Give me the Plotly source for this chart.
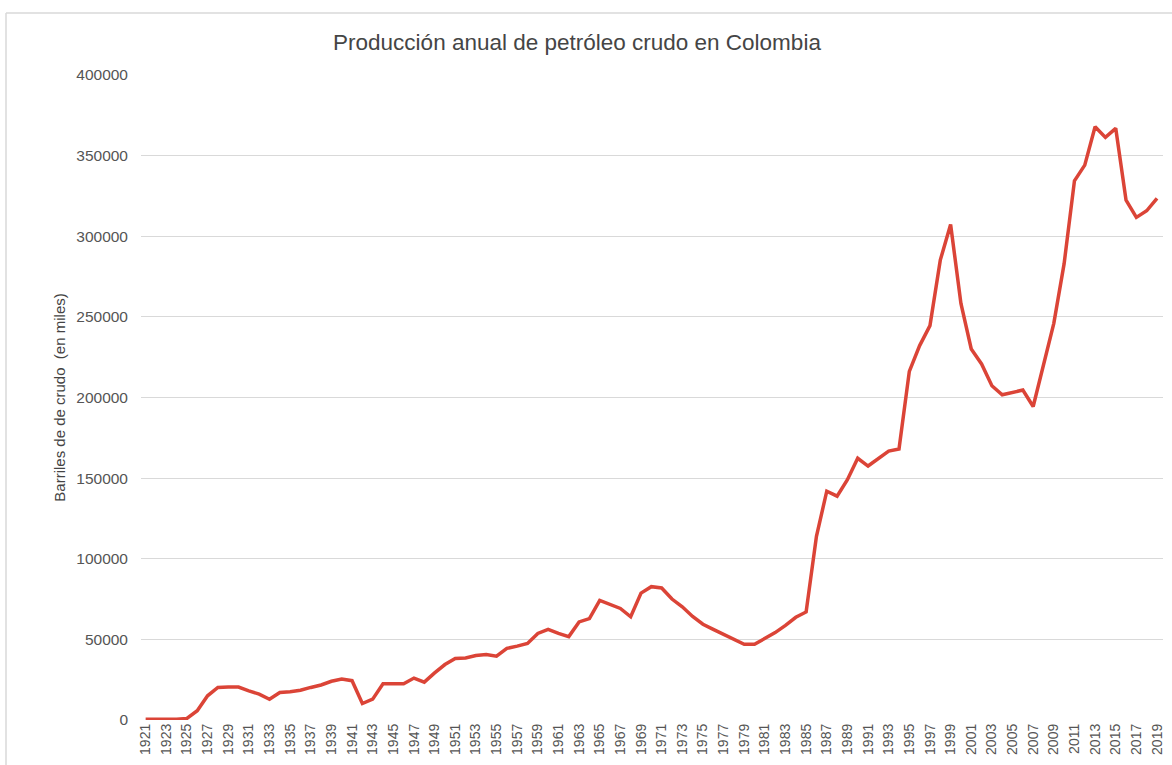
import plotly.graph_objects as go

years = list(range(1921, 2020))
production = [
    400, 300, 400, 400, 1000, 5800, 15000, 20200, 20400, 20400,          # 1921-1930
    18100, 16000, 12900, 17100, 17500, 18500, 20200, 21700, 24000, 25400,  # 1931-1940
    24400, 10200, 12900, 22500, 22500, 22500, 26000, 23500, 29200, 34400,  # 1941-1950
    38100, 38500, 40000, 40600, 39600, 44400, 45800, 47500, 53700, 56200,  # 1951-1960
    53700, 51700, 60800, 62900, 74200, 71500, 69200, 64000, 78700, 82700,  # 1961-1970
    81900, 75000, 70200, 64200, 59400, 56200, 52900, 49600, 46900, 46900,  # 1971-1980
    50600, 54200, 58700, 63700, 67000, 113900, 141900, 138800, 149000, 162300,  # 1981-1990
    157500, 162300, 166800, 168100, 216200, 232200, 244600, 285200, 307300, 258300,  # 1991-2000
    230100, 220800, 207300, 201700, 203100, 204600, 194400, 219700, 246000, 283000,  # 2001-2010
    334400, 344100, 367900, 361300, 366900, 322400, 311700, 315800, 323500,  # 2011-2019
]
assert len(years) == len(production)

tick_years = years[::2]
tick_labels = [str(y) for y in tick_years]
y_ticks = [0, 50000, 100000, 150000, 200000, 250000, 300000, 350000, 400000]
y_tick_labels = [str(v) for v in y_ticks]

title_text = "Producción anual de petróleo crudo en Colombia"
y_title = "Barriles de de crudo  (en miles)"

FONT = "Liberation Sans, Arial, sans-serif"

fig = go.Figure()
fig.add_trace(go.Scatter(
    x=years, y=production, mode="lines",
    line=dict(color="#db4437", width=3.5),
    hoverinfo="x+y", showlegend=False,
))

# plot area: x 141..1163, y 75..720 in a 1172x765 canvas
L, R, T, B = 141, 1163, 75, 720
W, H = 1172, 765

def px_to_paper_x(px):
    return (px - L) / (R - L)

def px_to_paper_y(py):
    return (B - py) / (B - T)

fig.update_layout(
    width=W, height=H,
    margin=dict(l=L, r=W - R, t=T, b=H - B, pad=0, autoexpand=False),
    paper_bgcolor="white", plot_bgcolor="white",
    font=dict(family=FONT, color="#555555"),
    title=dict(
        text=title_text, x=577 / W, xanchor="center",
        y=1 - 42 / H, yanchor="middle",
        font=dict(family=FONT, size=22.5, color="#454545"),
    ),
    xaxis=dict(
        range=[1920.55, 2019.58],
        tickmode="array", tickvals=tick_years, ticktext=tick_labels,
        tickangle=-90, tickfont=dict(size=14, color="#555555"),
        showgrid=False, zeroline=False, showline=False, ticks="",
        fixedrange=True,
    ),
    yaxis=dict(
        range=[0, 400000],
        tickmode="array", tickvals=y_ticks, ticktext=y_tick_labels,
        tickfont=dict(size=15.5, color="#555555"),
        showgrid=True, gridcolor="#d9d9d9", gridwidth=1.2,
        zeroline=False, showline=False, ticks="",
        ticklabelstandoff=12,
        title=dict(text=y_title, font=dict(size=15, color="#444444"), standoff=7),
        fixedrange=True,
    ),
    shapes=[
        dict(type="line", xref="paper", yref="paper",
             x0=px_to_paper_x(6), x1=px_to_paper_x(1180),
             y0=px_to_paper_y(13), y1=px_to_paper_y(13),
             line=dict(color="#d9d9d9", width=1.5), layer="below"),
        dict(type="line", xref="paper", yref="paper",
             x0=px_to_paper_x(6), x1=px_to_paper_x(6),
             y0=px_to_paper_y(13), y1=px_to_paper_y(780),
             line=dict(color="#d9d9d9", width=1.5), layer="below"),
    ],
)

fig.write_html(
    "out.html",
    config={"displayModeBar": False},
    post_script="document.body.style.margin='0';document.body.style.padding='0';",
)
